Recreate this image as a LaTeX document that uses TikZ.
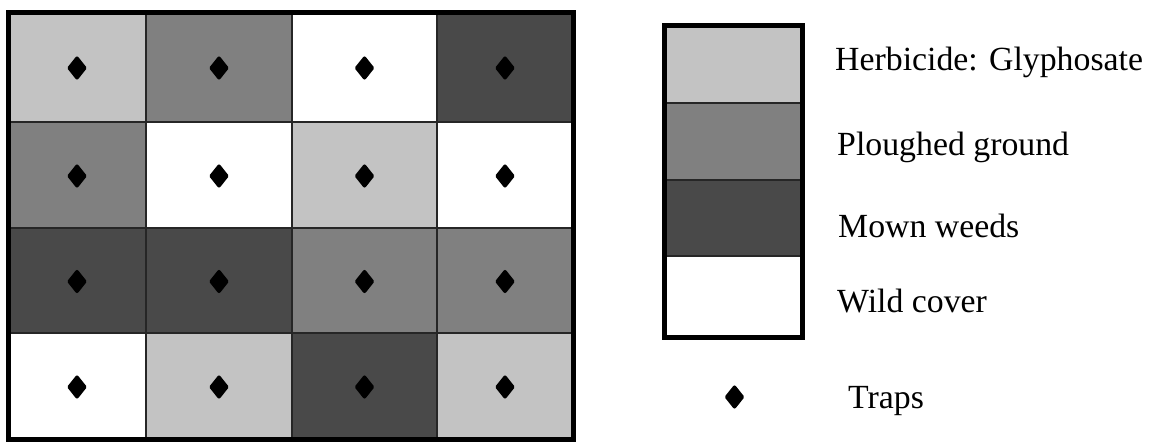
\documentclass[tikz,border=0pt]{standalone}
\usepackage{fontspec}
\setmainfont{Liberation Serif}
\usetikzlibrary{shapes.geometric}
\definecolor{lg}{HTML}{C3C3C3}
\definecolor{mg}{HTML}{808080}
\definecolor{dg}{HTML}{494949}
\begin{document}
\begin{tikzpicture}[x=1pt,y=-1pt,
  trap/.style={diamond,fill=black,draw=black,line width=3.5pt,line join=round,inner sep=0pt,minimum width=17pt,minimum height=21pt},
  lbl/.style={anchor=base west,font=\fontsize{33.8}{40}\selectfont,inner sep=0pt},
  cell/.style={draw=black!85,line width=1.5pt},
  frame/.style={draw=black,line width=5pt}]
\useasboundingbox (0,0) rectangle (1150,442);
\foreach \c [count=\i from 0] in {lg,mg,white,dg,mg,white,lg,white,dg,dg,mg,mg,white,lg,dg,lg} {
  \pgfmathtruncatemacro\cc{mod(\i,4)}
  \pgfmathtruncatemacro\rr{div(\i,4)}
  \pgfmathsetmacro\xa{{8,146,292,437,573}[\cc]}
  \pgfmathsetmacro\xb{{8,146,292,437,573}[\cc+1]}
  \pgfmathsetmacro\ya{{12,122,228,333,439}[\rr]}
  \pgfmathsetmacro\yb{{12,122,228,333,439}[\rr+1]}
  \filldraw[cell,fill=\c] (\xa,\ya) rectangle (\xb,\yb);
  \node[trap] (t\i) at ({(\xa+\xb)/2},{(\ya+\yb)/2+1}) {};
}
\draw[frame] (8,12) rectangle (573,439);
% legend
\filldraw[cell,fill=lg] (664.5,25.5) rectangle (802.5,103);
\filldraw[cell,fill=mg] (664.5,103) rectangle (802.5,180);
\filldraw[cell,fill=dg] (664.5,180) rectangle (802.5,256);
\filldraw[cell,fill=white] (664.5,256) rectangle (802.5,337);
\draw[frame] (664.5,25.5) rectangle (802.5,337);
\node[lbl] (l1) at (835,70) {Herbicide: Glyphosate};
\node[lbl] (l2) at (837,155) {Ploughed ground};
\node[lbl] (l3) at (838,237) {Mown weeds};
\node[lbl] (l4) at (837,312) {Wild cover};
\node[trap] (lt) at (734.5,397) {};
\node[lbl] (l5) at (848,408) {Traps};
\end{tikzpicture}
\end{document}
